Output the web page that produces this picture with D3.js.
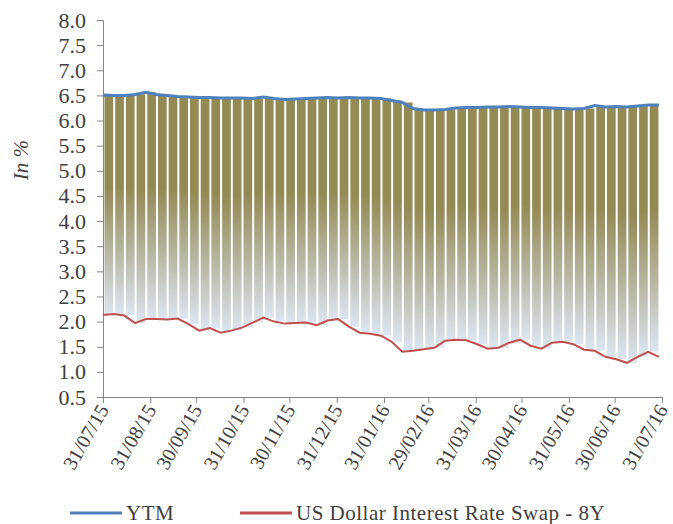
<!DOCTYPE html>
<html>
<head>
<meta charset="utf-8">
<script src="https://cdn.jsdelivr.net/npm/d3@7"></script>
<style>
  body { margin: 0; background: #fff; }
  svg { display: block; }
  text { font-family: "Liberation Serif", "Times New Roman", serif; fill: #404040; }
</style>
</head>
<body>
<svg id="chart"></svg>
<script>
const width = 673;
const height = 524;
const margin = { top: 20, right: 8, bottom: 127, left: 103 };

// weekly observations (Fridays) starting 31/07/15
const startDate = new Date(2015, 6, 31);
const endDate = new Date(2016, 6, 31);

const ytm = [
  6.51, 6.50, 6.50, 6.52, 6.56, 6.52, 6.50, 6.48, 6.47, 6.46,
  6.46, 6.45, 6.45, 6.45, 6.44, 6.47, 6.44, 6.42, 6.43, 6.44,
  6.45, 6.46, 6.45, 6.46, 6.45, 6.45, 6.44, 6.40, 6.36, 6.24,
  6.21, 6.21, 6.22, 6.25, 6.26, 6.26, 6.27, 6.27, 6.28, 6.27,
  6.26, 6.26, 6.25, 6.24, 6.23, 6.24, 6.30, 6.27, 6.28, 6.27,
  6.29, 6.31, 6.31
];

const swap = [
  2.13, 2.15, 2.12, 1.97, 2.05, 2.05, 2.04, 2.06, 1.95, 1.82,
  1.87, 1.78, 1.82, 1.88, 1.98, 2.08, 2.00, 1.96, 1.97, 1.98,
  1.93, 2.02, 2.05, 1.90, 1.78, 1.76, 1.72, 1.60, 1.40, 1.42,
  1.45, 1.48, 1.62, 1.64, 1.63, 1.55, 1.46, 1.48, 1.58, 1.64,
  1.52, 1.46, 1.58, 1.60, 1.55, 1.44, 1.42, 1.30, 1.25, 1.18,
  1.30, 1.40, 1.30
];

const monthTicks = [
  "2015-07-31", "2015-08-31", "2015-09-30", "2015-10-31", "2015-11-30",
  "2015-12-31", "2016-01-31", "2016-02-29", "2016-03-31", "2016-04-30",
  "2016-05-31", "2016-06-30", "2016-07-31"
].map(d3.timeParse("%Y-%m-%d"));

const yTicks = d3.range(0.5, 8.01, 0.5);

const data = ytm.map((v, i) => ({
  date: d3.timeDay.offset(startDate, i * 7),
  ytm: v,
  swap: swap[i]
}));

const fontFamily = "'Liberation Serif', 'Times New Roman', serif";

const svg = d3.select("#chart")
  .attr("width", width)
  .attr("height", height);

const x = d3.scaleTime()
  .domain([startDate, endDate])
  .range([margin.left, width - margin.right - 3]);

const y = d3.scaleLinear()
  .domain([0.5, 8])
  .range([height - margin.bottom, margin.top]);

// gradient for the spread bars
const defs = svg.append("defs");
const grad = defs.append("linearGradient")
  .attr("id", "spread")
  .attr("x1", 0).attr("y1", 0)
  .attr("x2", 0).attr("y2", 1);
grad.append("stop").attr("offset", "0%").attr("stop-color", "#948a54");
grad.append("stop").attr("offset", "42%").attr("stop-color", "#948a54");
grad.append("stop").attr("offset", "72%").attr("stop-color", "#b9b7a4");
grad.append("stop").attr("offset", "100%").attr("stop-color", "#dce6f2");

// bars between swap and ytm, one per week
const bars = data.slice(0, -1);
svg.append("g")
  .selectAll("rect")
  .data(bars)
  .join("rect")
  .attr("x", d => x(d.date) + 1.5)
  .attr("width", (d, i) => x(data[i + 1].date) - x(d.date) - 2)
  .attr("y", d => y(d.ytm))
  .attr("height", d => y(d.swap) - y(d.ytm))
  .attr("fill", "url(#spread)");

// axes
const axisColor = "#868686";

const yAxis = svg.append("g")
  .attr("transform", `translate(${margin.left},0)`)
  .call(d3.axisLeft(y).tickValues(yTicks).tickFormat(d3.format(".1f")).tickSize(6).tickPadding(11));
yAxis.attr("font-family", null);
yAxis.select(".domain").attr("stroke", axisColor);
yAxis.selectAll(".tick line").attr("stroke", axisColor);
yAxis.selectAll("text")
  .attr("font-size", 22)
  .attr("fill", "#404040")
  .style("font-family", fontFamily);

const xAxis = svg.append("g")
  .attr("transform", `translate(0,${height - margin.bottom})`)
  .call(d3.axisBottom(x).tickValues(monthTicks).tickFormat(d3.timeFormat("%d/%m/%y")).tickSize(6).tickSizeOuter(0));
xAxis.attr("font-family", null);
xAxis.select(".domain").attr("stroke", axisColor);
xAxis.selectAll(".tick line").attr("stroke", axisColor);
xAxis.selectAll("text")
  .attr("font-size", 20)
  .attr("fill", "#404040")
  .style("font-family", fontFamily)
  .attr("text-anchor", "end")
  .attr("dy", "0.35em")
  .attr("transform", "translate(0,9) rotate(-60)")
  .attr("x", 0)
  .attr("y", 0);

// lines
const lineYtm = d3.line().x(d => x(d.date)).y(d => y(d.ytm));
const lineSwap = d3.line().x(d => x(d.date)).y(d => y(d.swap));

svg.append("path")
  .datum(data)
  .attr("d", lineSwap)
  .attr("fill", "none")
  .attr("stroke", "#c0504d")
  .attr("stroke-width", 2);

svg.append("path")
  .datum(data)
  .attr("d", lineYtm)
  .attr("fill", "none")
  .attr("stroke", "#4f81bd")
  .attr("stroke-width", 3);

// y axis title
svg.append("text")
  .attr("transform", "translate(28,160) rotate(-90)")
  .attr("text-anchor", "middle")
  .attr("font-size", 21)
  .attr("font-style", "italic")
  .style("font-family", fontFamily)
  .text("In %");

// legend
const legend = [
  { name: "YTM", color: "#4f81bd", x: 70 },
  { name: "US Dollar Interest Rate Swap - 8Y", color: "#c0504d", x: 240 }
];
const lg = svg.append("g").attr("transform", "translate(0,513)");
lg.selectAll("line")
  .data(legend)
  .join("line")
  .attr("x1", d => d.x)
  .attr("x2", d => d.x + 52)
  .attr("stroke", d => d.color)
  .attr("stroke-width", 3);
lg.selectAll("text")
  .data(legend)
  .join("text")
  .attr("x", d => d.x + 56)
  .attr("dy", "0.35em")
  .attr("font-size", 21)
  .attr("letter-spacing", 0.5)
  .style("font-family", fontFamily)
  .text(d => d.name);
</script>
</body>
</html>
